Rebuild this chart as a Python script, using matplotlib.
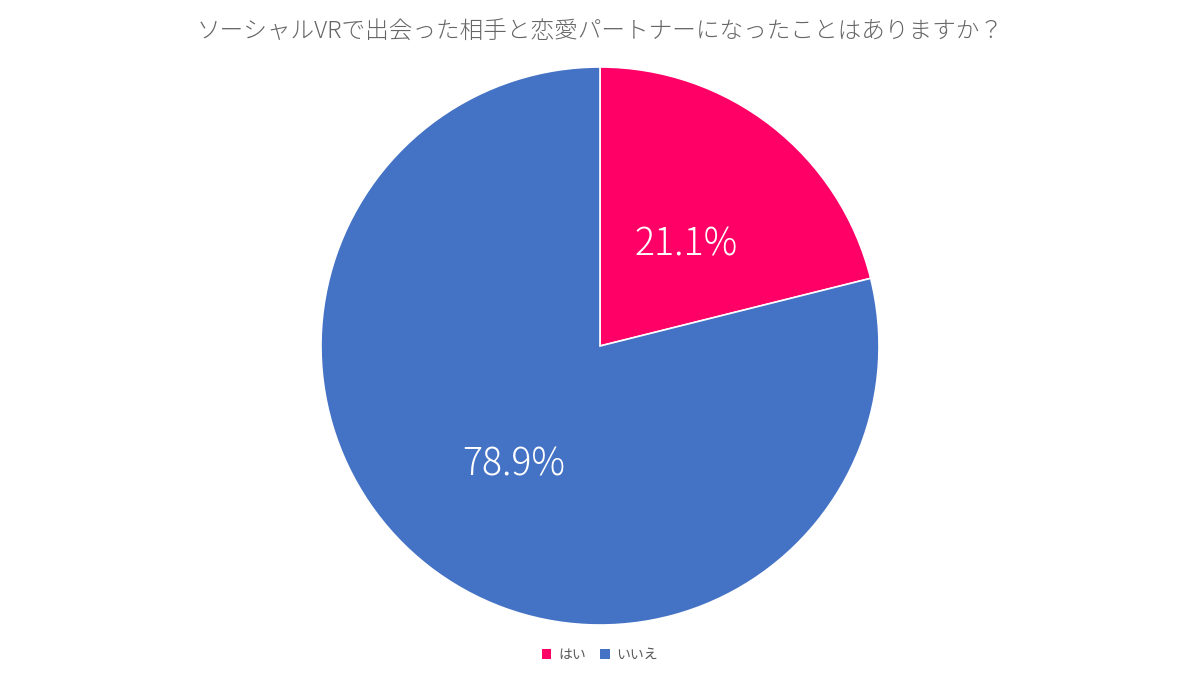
import matplotlib
matplotlib.use("Agg")
import matplotlib.pyplot as plt
from matplotlib.patches import Patch

plt.rcParams['font.family'] = ['Noto Sans CJK JP', 'DejaVu Sans']

title = "ソーシャルVRで出会った相手と恋愛パートナーになったことはありますか？"
labels = ["はい", "いいえ"]
values = [21.1, 78.9]
colors = ["#FF0066", "#4472C4"]

fig = plt.figure(figsize=(12, 6.75), dpi=100)
ax = fig.add_axes([321 / 1200, 50 / 675, 558 / 1200, 558 / 675])

wedges, texts, autotexts = ax.pie(values, colors=colors, startangle=90, counterclock=False,
                                  autopct="%.1f%%", pctdistance=0.5,
                                  wedgeprops=dict(edgecolor="white", linewidth=1.2),
                                  textprops=dict(color="white", fontsize=27, fontweight="light"))
# labels sit a little lower in the original
for t in autotexts:
    x, y = t.get_position()
    t.set_position((x, y - 0.03))

ax.set_xlim(-1, 1)
ax.set_ylim(-1, 1)
ax.set_aspect("equal")

fig.text(0.5, 1 - 32 / 675, title, ha="center", va="center", fontsize=17,
         color="#666666", fontweight="light")

handles = [Patch(facecolor=c, edgecolor="none") for c in colors]
fig.legend(handles, labels, loc="center", bbox_to_anchor=(0.5, 1 - 655 / 675), ncol=2,
           frameon=False, fontsize=10, handlelength=0.7, handleheight=0.7,
           columnspacing=1.0, handletextpad=0.5, labelcolor="#595959")

fig.savefig("out.png", dpi=100)
